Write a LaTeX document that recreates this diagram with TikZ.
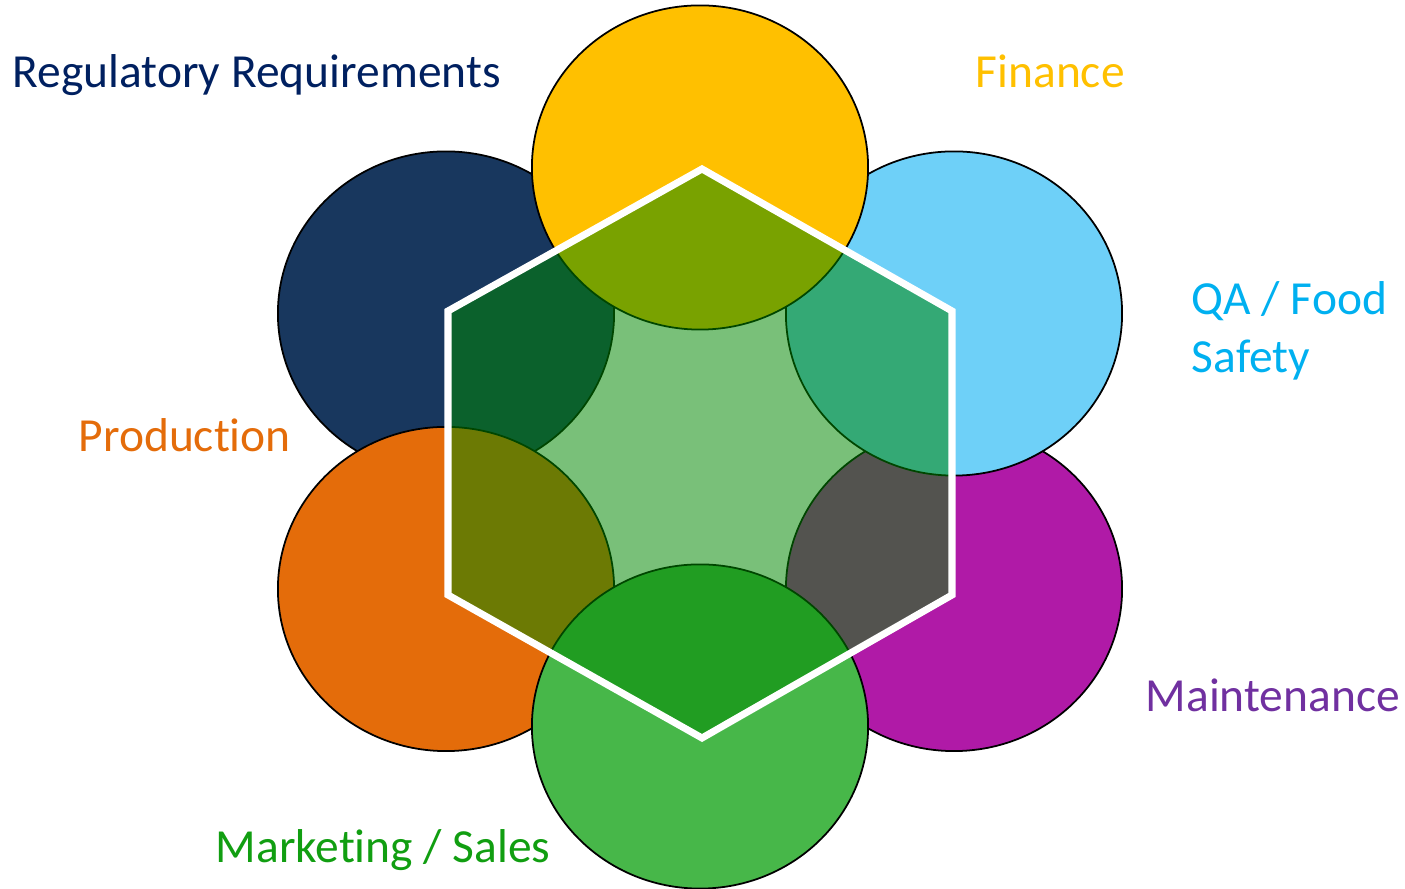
\documentclass[tikz,border=0pt]{standalone}
\usepackage{fontspec}
\setmainfont{Carlito}[Ligatures=NoCommon]
\usetikzlibrary{shapes.geometric}

\definecolor{regblue}{RGB}{24,55,94}
\definecolor{regtext}{RGB}{0,32,96}
\definecolor{finyellow}{RGB}{255,192,0}
\definecolor{qablue}{RGB}{110,208,248}
\definecolor{qatext}{RGB}{0,176,240}
\definecolor{prodorange}{RGB}{228,108,10}
\definecolor{mntpurple}{RGB}{176,26,167}
\definecolor{mnttext}{RGB}{112,48,160}
\definecolor{mktgreen}{RGB}{71,183,73}
\definecolor{mkttext}{RGB}{17,158,17}
\definecolor{hexgreen}{RGB}{0,135,0}

\begin{document}
\begin{tikzpicture}[x=0.01cm, y=-0.01cm,
                    petal/.style={ellipse, draw=black, line width=0.5pt, inner sep=0pt,
                                  minimum width=3.36cm, minimum height=3.24cm},
                    areatext/.style={anchor=base west, inner sep=0pt, align=left,
                                     font=\fontsize{13.5}{16.5}\selectfont}]
\useasboundingbox (0,0) rectangle (1405,889);

% circles, back to front
\node[petal, fill=regblue]    (reg)  at (446,313.5) {};
\node[petal, fill=mntpurple]  (mnt)  at (954,589) {};
\node[petal, fill=prodorange] (prod) at (446,589) {};
\node[petal, fill=qablue]     (qa)   at (954,313.5) {};
\node[petal, fill=finyellow]  (fin)  at (700,167.5) {};
\node[petal, fill=mktgreen]   (mkt)  at (700,726.5) {};

% hexagon on top
\draw[white, line width=2pt, fill=hexgreen, fill opacity=0.526]
    (702,169) -- (952,311) -- (952,595) -- (702,738) -- (448,595) -- (448,311) -- cycle;

% texts
\node[areatext, text=regtext]    (regtxt)  at (12,87.5)  {Regulatory Requirements};
\node[areatext, text=finyellow]  (fintxt)  at (975,88)   {Finance};
\node[areatext, text=qatext]     (qatxt)   at (1191,373) {QA / Food\\Safety};
\node[areatext, text=prodorange] (prodtxt) at (78,452)   {Production};
\node[areatext, text=mnttext]    (mnttxt)  at (1145,712) {Maintenance};
\node[areatext, text=mkttext]    (mkttxt)  at (215,863)  {Marketing / Sales};
\end{tikzpicture}
\end{document}
